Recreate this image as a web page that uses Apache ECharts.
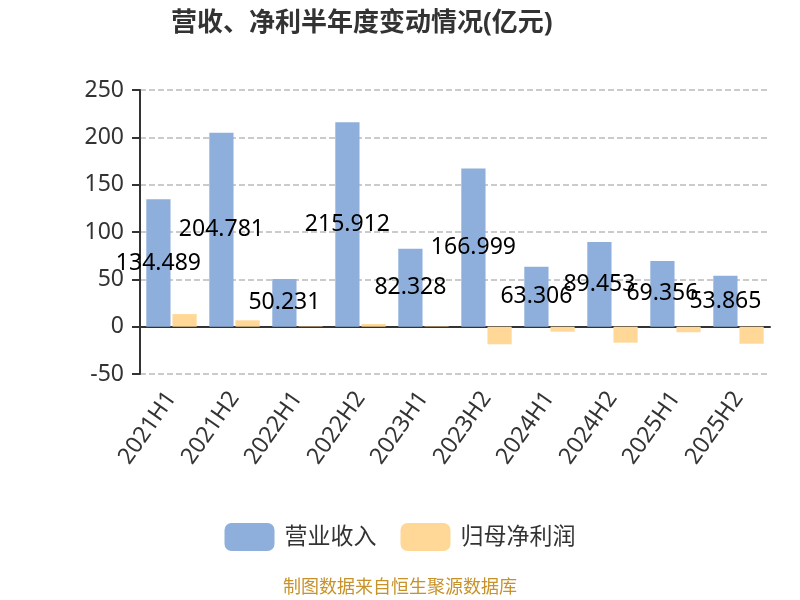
<!DOCTYPE html>
<html>
<head>
<meta charset="utf-8">
<script src="https://cdn.jsdelivr.net/npm/echarts@6/dist/echarts.min.js"></script>
<style>
  html, body { margin: 0; padding: 0; background: #fff; }
  #chart { width: 800px; height: 600px; }
</style>
</head>
<body>
<div id="chart"></div>
<script>
  var categories = ['2021H1', '2021H2', '2022H1', '2022H2', '2023H1', '2023H2', '2024H1', '2024H2', '2025H1', '2025H2']
  var revenue = [134.489, 204.781, 50.231, 215.912, 82.328, 166.999, 63.306, 89.453, 69.356, 53.865]
  var netProfit = [13.3, 6.7, 0.5, 2.8, 0.5, -18.6, -5.3, -16.9, -5.9, -18.0]
  var yTicks = [-50, 0, 50, 100, 150, 200, 250]

  var font = '"Noto Sans", "Noto Sans CJK SC", sans-serif'
  var chart = echarts.init(document.getElementById('chart'))
  chart.setOption({
    textStyle: { fontFamily: font },
    title: {
      text: '营收、净利半年度变动情况(亿元)',
      left: 166,
      top: 6,
      textStyle: { fontSize: 26, fontWeight: 'bold', color: '#333', fontFamily: font }
    },
    legend: {
      bottom: 44,
      left: 'center',
      itemWidth: 50,
      itemHeight: 28,
      itemGap: 24,
      textStyle: { fontSize: 23, color: '#333', padding: [0, 0, 0, 5] },
      data: ['营业收入', '归母净利润']
    },
    graphic: [{
      type: 'text',
      left: 'center',
      top: 579,
      style: { text: '制图数据来自恒生聚源数据库', fill: '#c8922a', fontSize: 18, fontFamily: font }
    }],
    grid: { left: 140, right: 30, top: 90, bottom: 226 },
    xAxis: {
      type: 'category',
      data: categories,
      axisLine: { lineStyle: { color: '#333', width: 2 } },
      axisTick: { lineStyle: { color: '#333', width: 2 }, length: 8 },
      axisLabel: { rotate: 55, fontSize: 23, color: '#333', margin: 20 }
    },
    yAxis: {
      type: 'value',
      min: yTicks[0],
      max: yTicks[yTicks.length - 1],
      interval: 50,
      axisLine: { show: true, lineStyle: { color: '#333', width: 2 } },
      axisTick: { show: true, length: 8, lineStyle: { color: '#333', width: 2 } },
      axisLabel: { fontSize: 23, color: '#333', margin: 16 },
      splitLine: { lineStyle: { type: 'dashed', color: '#bbb', width: 1.5 } }
    },
    series: [
      {
        name: '营业收入',
        type: 'bar',
        data: revenue,
        barGap: '8%',
        barCategoryGap: '20%',
        itemStyle: { color: '#8eaedb' },
        label: { show: true, position: 'inside', color: '#000', fontSize: 23 }
      },
      {
        name: '归母净利润',
        type: 'bar',
        data: netProfit,
        itemStyle: { color: '#ffd898' }
      }
    ]
  })
</script>
</body>
</html>
